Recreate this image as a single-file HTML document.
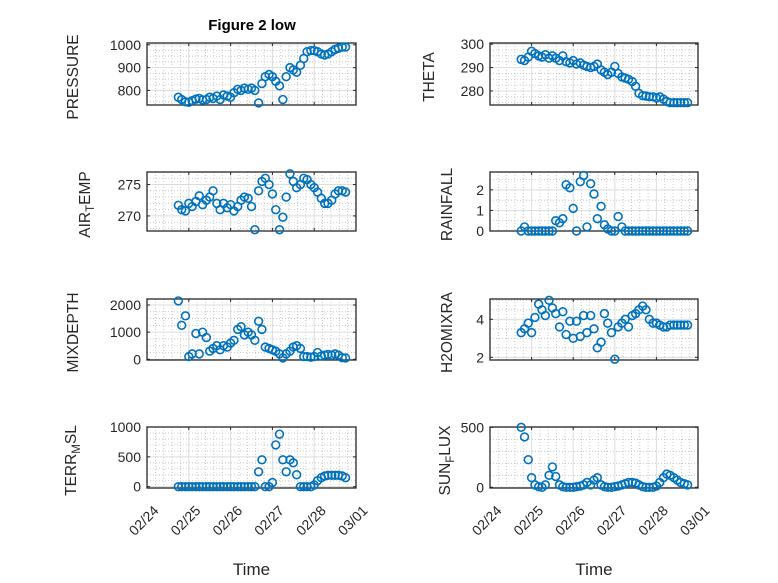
<!DOCTYPE html>
<html><head><meta charset="utf-8"><style>
html,body{margin:0;padding:0;background:#fff;}
svg{display:block;font-family:"Liberation Sans","DejaVu Sans",sans-serif;}
</style></head><body>
<svg id="fig" width="778" height="583" viewBox="0 0 778 583" xmlns="http://www.w3.org/2000/svg">
<rect width="778" height="583" fill="#fff"/>
<text x="252" y="30" text-anchor="middle" font-size="15" font-weight="bold" fill="#000">Figure 2 low</text>
</svg>
<script>
const times = [0.75,0.83,0.92,1.0,1.08,1.17,1.25,1.33,1.42,1.5,1.58,1.67,1.75,1.83,1.92,2.0,2.08,2.17,2.25,2.33,2.42,2.5,2.58,2.67,2.75,2.83,2.92,3.0,3.08,3.17,3.25,3.33,3.42,3.5,3.58,3.67,3.75,3.83,3.92,4.0,4.08,4.17,4.25,4.33,4.42,4.5,4.58,4.67,4.75];
const dateTickLabels = ["02/24","02/25","02/26","02/27","02/28","03/01"];
const pressure = [770,760,750,748,755,762,765,758,760,770,765,775,760,780,775,770,790,805,800,810,805,810,800,745,830,860,870,860,840,820,760,860,900,890,880,910,940,970,975,975,970,960,955,960,970,980,985,990,990];
const airTemp = [271.7,271.0,270.8,272,271.5,272.3,273.2,271.8,272.5,273,274,272,271,272,271.3,271.8,270.8,271.5,272.5,273,272.8,271.5,267.8,274,275.5,276,275,273.5,271,267.8,269.8,273,276.7,275.5,274.5,275,276,275.8,275,274.5,273.8,272.8,272,272,272.5,273.5,274,274,273.8];
const mixDepth = [2150,1250,1600,100,200,950,200,1000,800,300,400,500,350,500,450,600,700,1100,1200,900,1000,900,700,1400,1100,450,400,350,300,200,50,200,300,450,500,400,100,100,80,100,250,120,150,180,150,200,150,60,50];
const terrMsl = [0,0,0,0,0,0,0,0,0,0,0,0,0,0,0,0,0,0,0,0,0,0,0,250,450,0,0,70,700,880,450,250,450,400,200,0,0,0,0,30,100,150,180,190,190,190,190,180,150];
const theta = [293.5,293,294.5,297,296,295,294.5,295.5,294,295,294,293,295,292.5,292,293,291.5,292,291,290.5,290,290.5,291.5,289,288,287,288,290.5,287.5,286,285.5,285,284,282,279,278,277.8,277.5,277.5,277,277.5,276.5,275.5,275,275,275,275,275,275];
const rainfall = [0,0.2,0,0,0,0,0,0,0,0,0.5,0.4,0.6,2.25,2.1,1.1,0,2.4,2.7,0.2,2.3,1.8,0.6,1.2,0.3,0.1,0,0,0.7,0.2,0,0,0,0,0,0,0,0,0,0,0,0,0,0,0,0,0,0,0];
const h2oMix = [3.3,3.5,3.8,3.3,4.1,4.8,4.5,4.2,5.0,4.6,4.3,3.6,4.4,3.2,3.9,3.0,3.9,3.1,4.2,3.3,4.2,3.5,2.5,2.8,4.3,3.8,3.3,1.9,3.6,3.8,4.0,3.6,4.2,4.3,4.5,4.7,4.5,4.0,3.8,3.8,3.7,3.6,3.6,3.7,3.7,3.7,3.7,3.7,3.7];
const sunFlux = [500,420,230,80,20,5,0,20,100,170,90,20,5,0,0,0,5,10,20,40,20,60,80,20,5,0,0,5,10,20,30,40,40,35,20,5,0,0,0,10,40,80,110,100,80,60,40,30,20];
const pressureTicks = [800,900,1000];
const airTempTicks = [270,275];
const mixDepthTicks = [0,1000,2000];
const terrTicks = [0,500,1000];
const thetaTicks = [280,290,300];
const rainTicks = [0,1,2];
const h2oTicks = [2,4];
const sunTicks = [0,500];

const NS="http://www.w3.org/2000/svg";
const svg=document.getElementById('fig');
function mk(tag,attrs,parent){const e=document.createElementNS(NS,tag);for(const k in attrs)e.setAttribute(k,attrs[k]);(parent||svg).appendChild(e);return e;}

const panels=[
 {name:'pressure',x0:147,x1:356,y0:43,y1:105,ymin:736,ymax:1008,minor:25,ticks:pressureTicks,data:pressure,label:['PRESSURE'],lx:78,xl:false},
 {name:'air-temp',x0:147,x1:356,y0:172,y1:231,ymin:267.6,ymax:277,minor:1,ticks:airTempTicks,data:airTemp,label:['AIR','T','EMP'],lx:90,xl:false},
 {name:'mix-depth',x0:147,x1:356,y0:299,y1:360,ymin:-25,ymax:2220,minor:250,ticks:mixDepthTicks,data:mixDepth,label:['MIXDEPTH'],lx:78,xl:false},
 {name:'terr-msl',x0:147,x1:356,y0:427,y1:488,ymin:-22,ymax:1000,minor:100,ticks:terrTicks,data:terrMsl,label:['TERR','M','SL'],lx:76,xl:true},
 {name:'theta',x0:490,x1:698,y0:43,y1:105,ymin:274,ymax:300.5,minor:2.5,ticks:thetaTicks,data:theta,label:['THETA'],lx:434,xl:false},
 {name:'rainfall',x0:490,x1:698,y0:172,y1:231,ymin:0,ymax:2.87,minor:0.5,ticks:rainTicks,data:rainfall,label:['RAINFALL'],lx:452,xl:false},
 {name:'h2o-mix',x0:490,x1:698,y0:299,y1:360,ymin:1.86,ymax:5.07,minor:0.5,ticks:h2oTicks,data:h2oMix,label:['H2OMIXRA'],lx:452,xl:false},
 {name:'sun-flux',x0:490,x1:698,y0:427,y1:488,ymin:-6,ymax:503,minor:100,ticks:sunTicks,data:sunFlux,label:['SUN','F','LUX'],lx:450,xl:true}
];

panels.forEach(p=>{
  const g=mk('g',{});
  
  
  const xs=t=>p.x0+(t-0)/5*(p.x1-p.x0);
  const ys=v=>p.y1-(v-p.ymin)/(p.ymax-p.ymin)*(p.y1-p.y0);
  for(let d=0;d<5;d++)for(let k=1;k<5;k++){const x=xs(d+k/5);mk('line',{x1:x,x2:x,y1:p.y0,y2:p.y1,stroke:'#bdbdbd','stroke-width':0.8,'stroke-dasharray':'1 2'},g);}
  const startM=Math.ceil(p.ymin/p.minor)*p.minor;
  for(let v=startM;v<=p.ymax+1e-9;v+=p.minor){if(p.ticks.some(t=>Math.abs(t-v)<1e-6))continue;const y=ys(v);mk('line',{x1:p.x0,x2:p.x1,y1:y,y2:y,stroke:'#bdbdbd','stroke-width':0.8,'stroke-dasharray':'1 2'},g);}
  for(let d=1;d<5;d++){const x=xs(d);mk('line',{x1:x,x2:x,y1:p.y0,y2:p.y1,stroke:'#dcdcdc','stroke-width':1},g);}
  p.ticks.forEach(v=>{const y=ys(v);mk('line',{x1:p.x0,x2:p.x1,y1:y,y2:y,stroke:'#dcdcdc','stroke-width':1},g);
    mk('line',{x1:p.x0,x2:p.x0+3,y1:y,y2:y,stroke:'#262626'},g);mk('line',{x1:p.x1-3,x2:p.x1,y1:y,y2:y,stroke:'#262626'},g);
    const tl=mk('text',{x:p.x0-6,y:y,'text-anchor':'end','dominant-baseline':'central','font-size':14,fill:'#262626'},g);
    
    
    tl.textContent=String(v);});
  for(let d=0;d<=5;d++){const x=xs(d);mk('line',{x1:x,x2:x,y1:p.y1,y2:p.y1-3,stroke:'#262626'},g);mk('line',{x1:x,x2:x,y1:p.y0,y2:p.y0+3,stroke:'#262626'},g);}
  const box=mk('rect',{x:p.x0,y:p.y0,width:p.x1-p.x0,height:p.y1-p.y0,fill:'none',stroke:'#262626','stroke-width':1.3},g);
  
  
  p.data.forEach((v,i)=>{const c=mk('circle',{cx:xs(times[i]),cy:ys(v),r:3.9,fill:'none',stroke:'#0072BD','stroke-width':1.6},g);
    
    });
  const cy=(p.y0+p.y1)/2+3;
  const lab=mk('text',{transform:`translate(${p.lx},${cy}) rotate(-90)`,'text-anchor':'middle','font-size':15.5,fill:'#262626'},g);
  
  
  if(p.label.length===1){lab.textContent=p.label[0];}
  else{const a=mk('tspan',{},lab);a.textContent=p.label[0];const b=mk('tspan',{'baseline-shift':'-30%','font-size':11.5},lab);b.textContent=p.label[1];const c2=mk('tspan',{},lab);c2.textContent=p.label[2];}
  if(p.xl){
    dateTickLabels.forEach((s,d)=>{const x=xs(d);const t=mk('text',{transform:`translate(${x+9},${p.y1+20}) rotate(-45)`,'text-anchor':'end','dominant-baseline':'central','font-size':14,fill:'#262626'},g);
      
      
      t.textContent=s;});
    const xt=mk('text',{x:(p.x0+p.x1)/2,y:575,'text-anchor':'middle','font-size':17,fill:'#262626'},g);
    
    
    xt.textContent='Time';
  }
});
</script>
</body></html>
